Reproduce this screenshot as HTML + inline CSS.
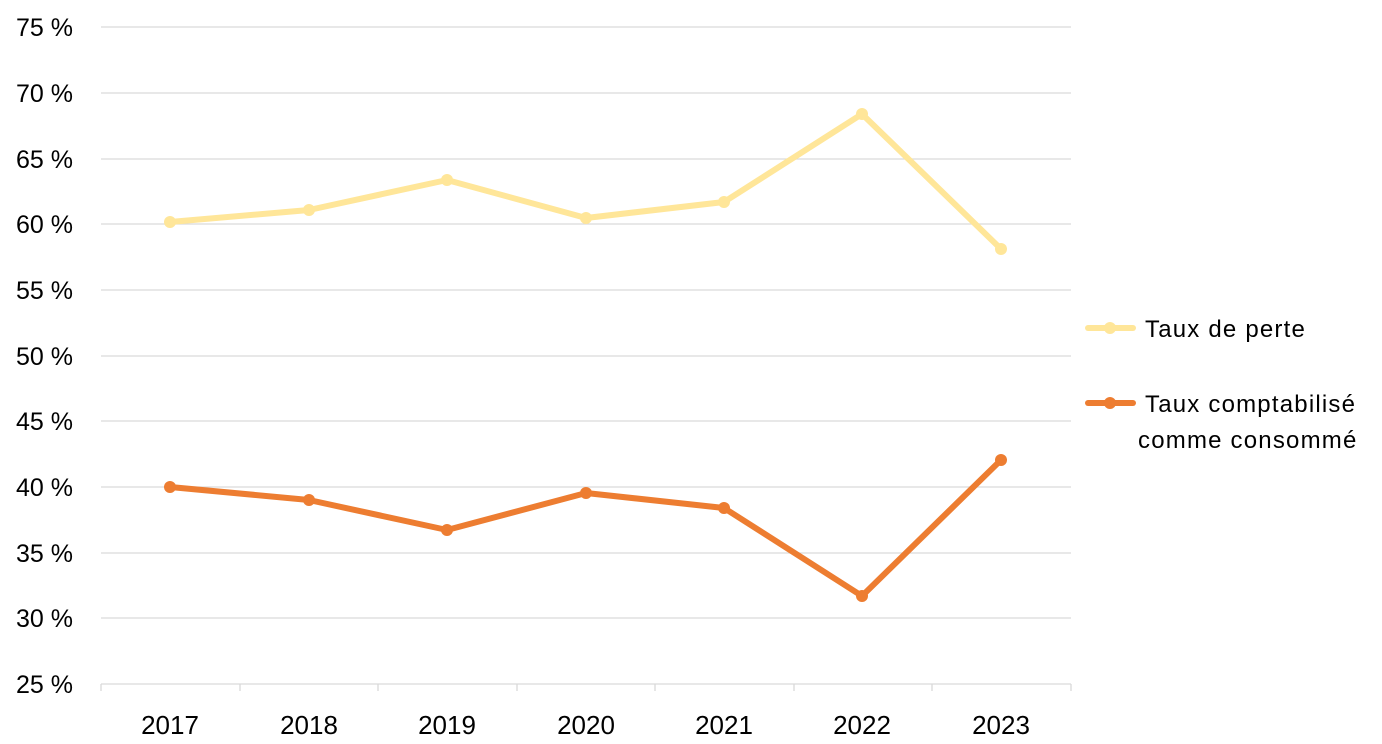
<!DOCTYPE html>
<html><head><meta charset="utf-8"><style>
html,body{margin:0;padding:0;background:#fff;}
svg{display:block;font-family:"Liberation Sans",Calibri,sans-serif;}
</style></head><body>
<svg width="1382" height="744" viewBox="0 0 1382 744">
<g stroke="#d9d9d9" stroke-width="1.3">
<line x1="101" x2="1071" y1="27" y2="27"/>
<line x1="101" x2="1071" y1="93" y2="93"/>
<line x1="101" x2="1071" y1="159" y2="159"/>
<line x1="101" x2="1071" y1="224" y2="224"/>
<line x1="101" x2="1071" y1="290" y2="290"/>
<line x1="101" x2="1071" y1="356" y2="356"/>
<line x1="101" x2="1071" y1="421" y2="421"/>
<line x1="101" x2="1071" y1="487" y2="487"/>
<line x1="101" x2="1071" y1="553" y2="553"/>
<line x1="101" x2="1071" y1="618" y2="618"/>
<line x1="101" x2="1071" y1="684" y2="684"/>
<line x1="101" x2="101" y1="684" y2="691"/>
<line x1="240" x2="240" y1="684" y2="691"/>
<line x1="378" x2="378" y1="684" y2="691"/>
<line x1="517" x2="517" y1="684" y2="691"/>
<line x1="655" x2="655" y1="684" y2="691"/>
<line x1="794" x2="794" y1="684" y2="691"/>
<line x1="932" x2="932" y1="684" y2="691"/>
<line x1="1071" x2="1071" y1="684" y2="691"/>
</g>
<g font-size="25" fill="#000" text-anchor="end">
<text x="73" y="36">75 %</text><text x="73" y="102">70 %</text><text x="73" y="168">65 %</text>
<text x="73" y="233">60 %</text><text x="73" y="299">55 %</text><text x="73" y="365">50 %</text>
<text x="73" y="430">45 %</text><text x="73" y="496">40 %</text><text x="73" y="562">35 %</text>
<text x="73" y="627">30 %</text><text x="73" y="693">25 %</text>
</g>
<g font-size="26" fill="#000" text-anchor="middle">
<text x="170" y="734">2017</text><text x="309" y="734">2018</text><text x="447" y="734">2019</text>
<text x="586" y="734">2020</text><text x="724" y="734">2021</text><text x="862" y="734">2022</text>
<text x="1001" y="734">2023</text>
</g>
<polyline fill="none" stroke="#FFE699" stroke-width="6" stroke-linejoin="round" points="170,222 309,210 447,180 586,218 724,202 862,114 1001,249"/>
<g fill="#FFE699"><circle cx="170" cy="222" r="6"/><circle cx="309" cy="210" r="6"/><circle cx="447" cy="180" r="6"/><circle cx="586" cy="218" r="6"/><circle cx="724" cy="202" r="6"/><circle cx="862" cy="114" r="6"/><circle cx="1001" cy="249" r="6"/></g>
<polyline fill="none" stroke="#ED7D31" stroke-width="6" stroke-linejoin="round" points="170,487 309,500 447,530 586,493 724,508 862,596 1001,460"/>
<g fill="#ED7D31"><circle cx="170" cy="487" r="6"/><circle cx="309" cy="500" r="6"/><circle cx="447" cy="530" r="6"/><circle cx="586" cy="493" r="6"/><circle cx="724" cy="508" r="6"/><circle cx="862" cy="596" r="6"/><circle cx="1001" cy="460" r="6"/></g>
<line x1="1088" x2="1133" y1="328" y2="328" stroke="#FFE699" stroke-width="6" stroke-linecap="round"/>
<circle cx="1110" cy="328" r="6" fill="#FFE699"/>
<line x1="1088" x2="1133" y1="403" y2="403" stroke="#ED7D31" stroke-width="6" stroke-linecap="round"/>
<circle cx="1110" cy="403" r="6" fill="#ED7D31"/>
<g font-size="24" fill="#000" letter-spacing="1.2">
<text x="1145" y="337">Taux de perte</text>
<text x="1145" y="412">Taux comptabilisé</text>
<text x="1138" y="448">comme consommé</text>
</g>
</svg>
</body></html>
